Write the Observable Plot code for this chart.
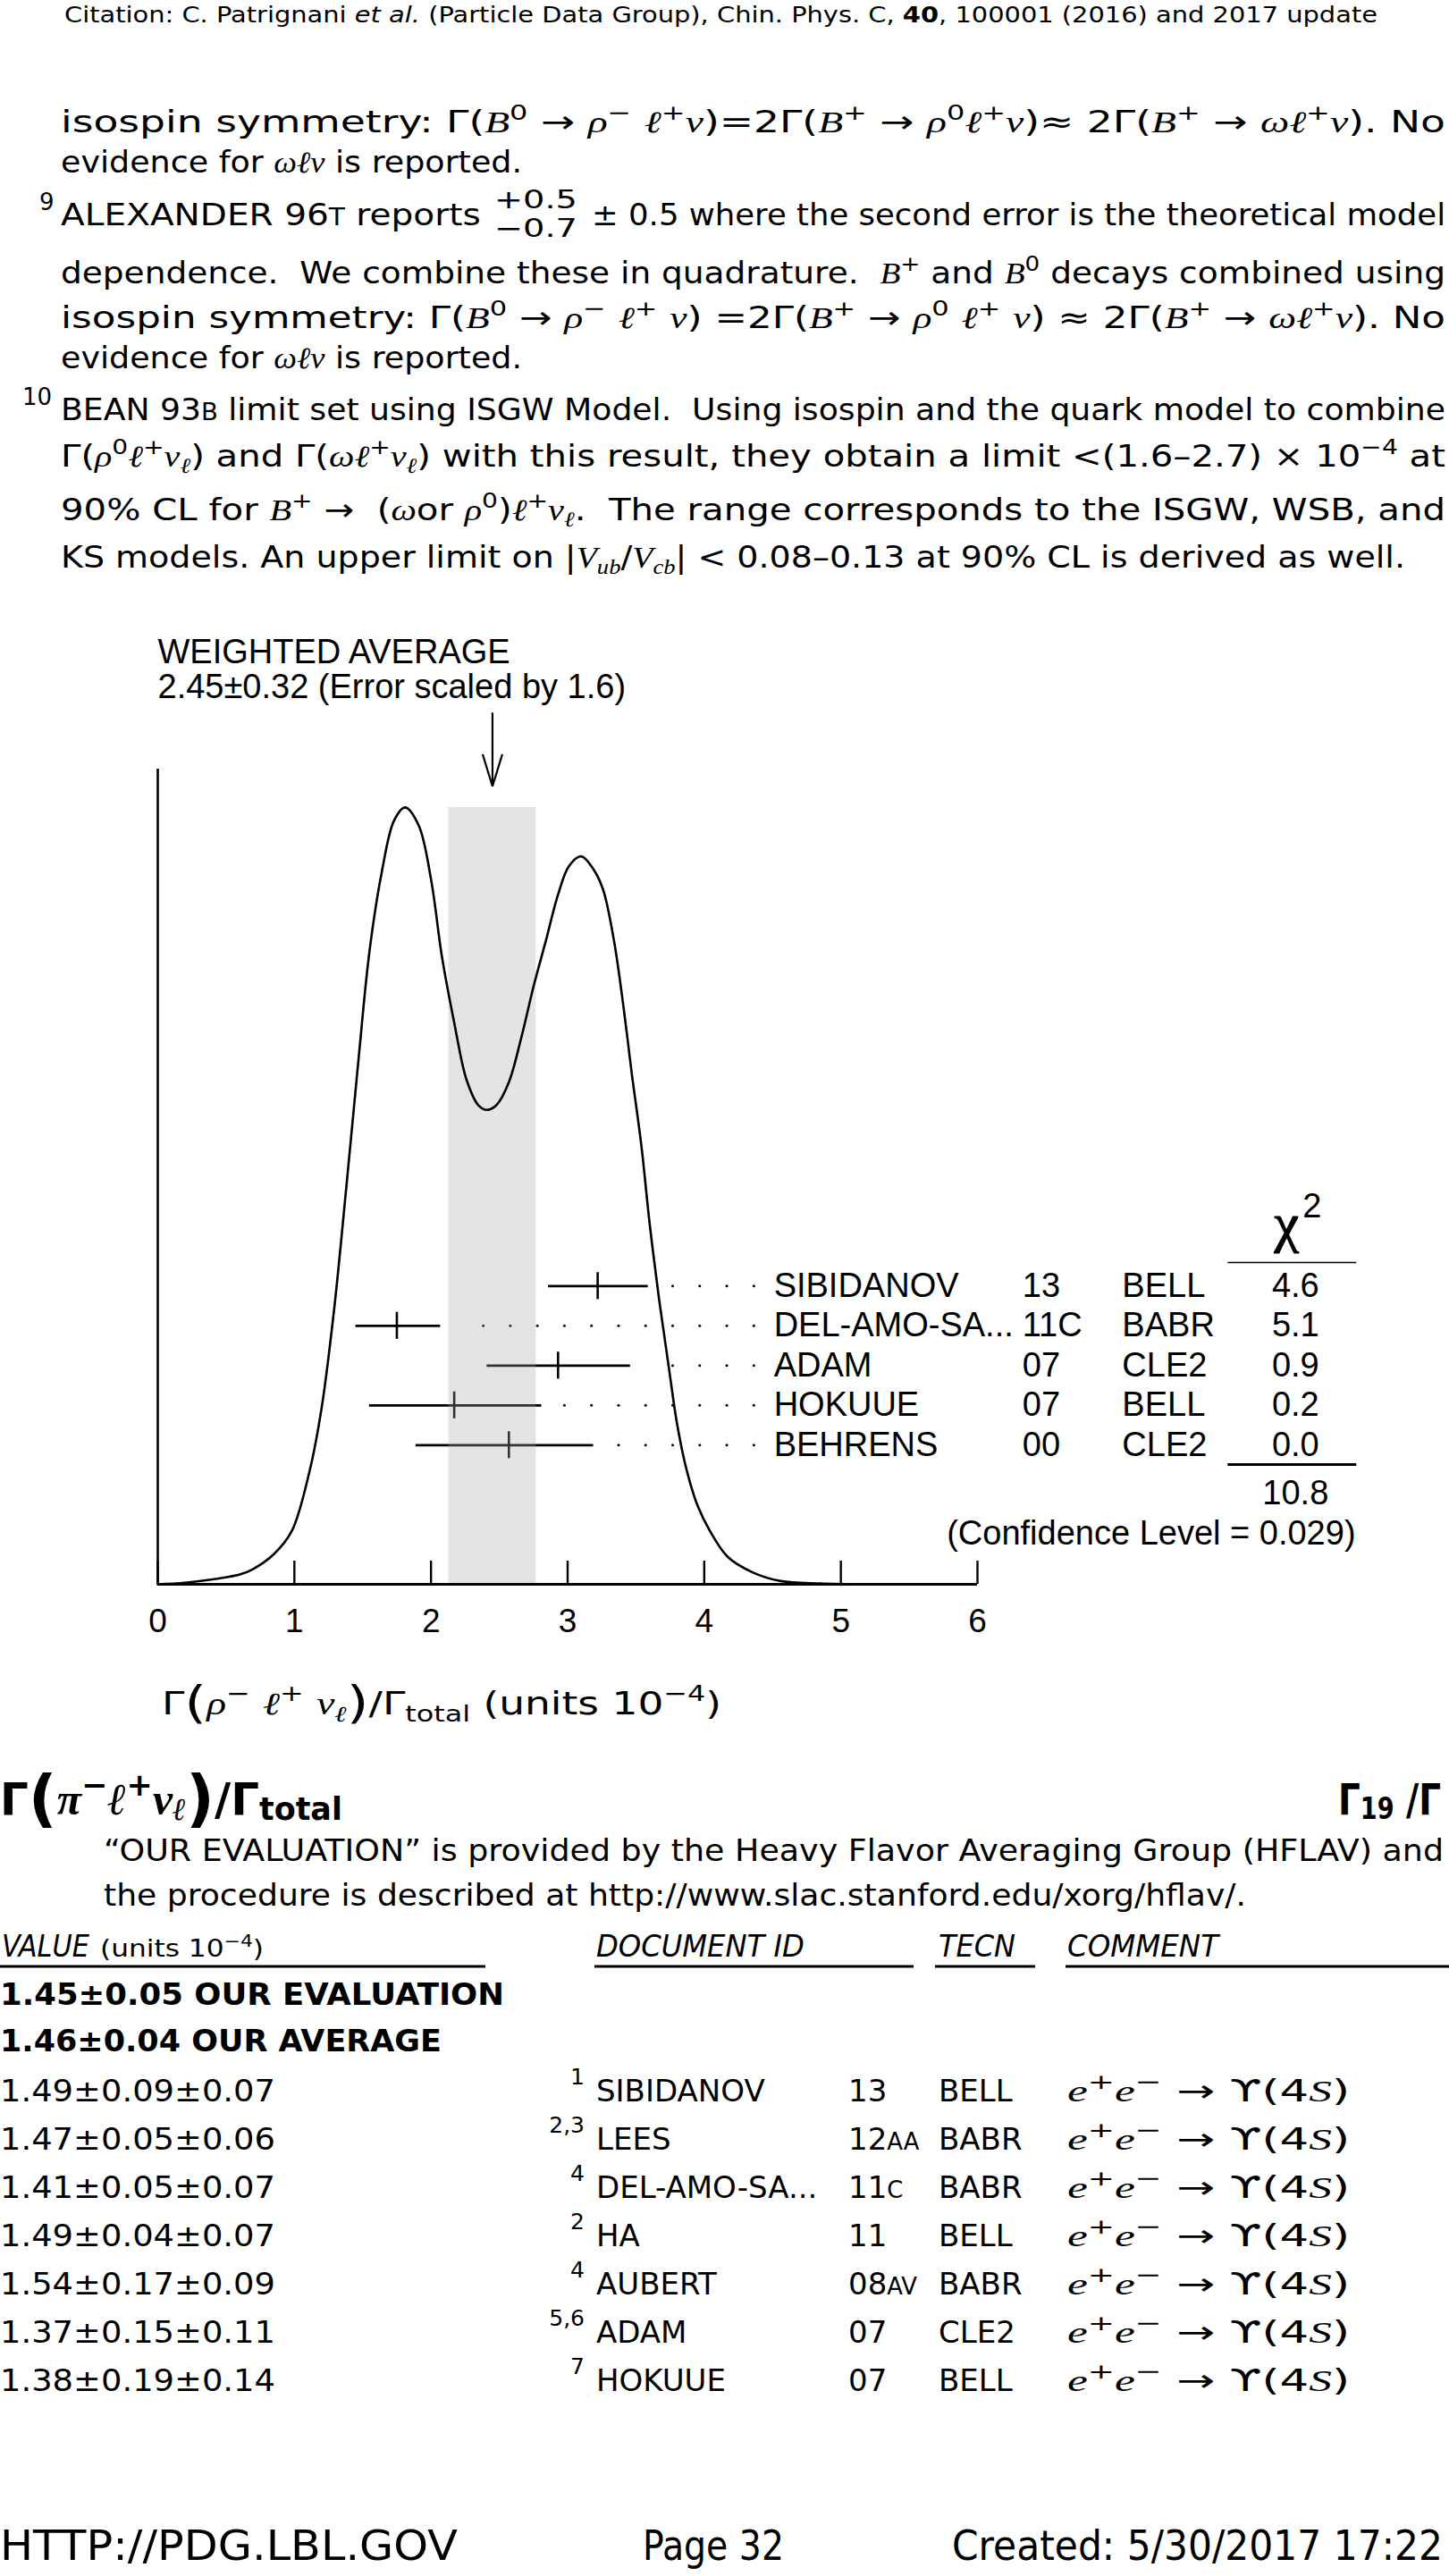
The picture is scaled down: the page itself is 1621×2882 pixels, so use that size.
<!DOCTYPE html>
<html>
<head>
<meta charset="utf-8">
<script src="https://cdn.jsdelivr.net/npm/d3@7"></script>
<script src="https://cdn.jsdelivr.net/npm/@observablehq/plot@0.6"></script>
<style>
html, body { margin: 0; padding: 0; background: #fff; }
#page { position: relative; width: 1621px; height: 2882px; overflow: hidden; background: #fff; }
#page > svg { position: absolute; left: 0; }
#page text { white-space: pre; }
</style>
</head>
<body>
<div id="page"></div>
<script>
// ---------------- DATA (ideogram) ----------------
const avgValue = 2.45;
const avgError = 0.32;
const errScale = 1.6;
const names  = ["SIBIDANOV", "DEL-AMO-SA...", "ADAM", "HOKUUE", "BEHRENS"];
const years  = ["13", "11C", "07", "07", "00"];
const tecns  = ["BELL", "BABR", "CLE2", "BELL", "CLE2"];
const values = [3.22, 1.75, 2.93, 2.17, 2.57];
const errLo  = [2.86, 1.45, 2.41, 1.55, 1.89];
const errHi  = [3.59, 2.07, 3.46, 2.81, 3.19];
const chi2   = ["4.6", "5.1", "0.9", "0.2", "0.0"];
const chi2Total = "10.8";
const confLevel = "0.029";
const xTicks = [0, 1, 2, 3, 4, 5, 6];
// ideogram curve (x in units 10^-4, height relative to axis height)
const curveX = [0, 0.2, 0.4, 0.6, 0.69, 0.85, 0.98, 1.11, 1.2, 1.29, 1.38, 1.47, 1.55, 1.64, 1.73, 1.81, 1.91, 2.0, 2.08, 2.17, 2.26, 2.35, 2.41, 2.48, 2.57, 2.66, 2.75, 2.84, 2.93, 3.01, 3.10, 3.19, 3.26, 3.34, 3.41, 3.47, 3.54, 3.60, 3.67, 3.74, 3.80, 3.87, 3.95, 4.04, 4.17, 4.35, 4.56, 4.85, 5.2];
const curveY = [0, 0.002, 0.006, 0.012, 0.018, 0.037, 0.065, 0.138, 0.217, 0.336, 0.487, 0.645, 0.777, 0.874, 0.937, 0.953, 0.931, 0.865, 0.770, 0.689, 0.619, 0.587, 0.582, 0.588, 0.616, 0.670, 0.733, 0.789, 0.846, 0.881, 0.893, 0.877, 0.852, 0.789, 0.707, 0.626, 0.538, 0.443, 0.349, 0.267, 0.198, 0.141, 0.097, 0.066, 0.034, 0.015, 0.004, 0.001, 0];

// ---------------- DATA (table) ----------------
const tblValues = ["1.49±0.09±0.07", "1.47±0.05±0.06", "1.41±0.05±0.07", "1.49±0.04±0.07", "1.54±0.17±0.09", "1.37±0.15±0.11", "1.38±0.19±0.14"];
const tblRefs   = ["1", "2,3", "4", "2", "4", "5,6", "7"];
const tblDocs   = ["SIBIDANOV", "LEES", "DEL-AMO-SA...", "HA", "AUBERT", "ADAM", "HOKUUE"];
const tblYears  = ["13", "12~{AA}", "11~{C}", "11", "08~{AV}", "07", "07"];
const tblTecn   = ["BELL", "BABR", "BABR", "BELL", "BABR", "CLE2", "BELL"];
const tblComment = "*e*^{+}*e*^{−} → ϒ(4*S*)";

// ---------------- LAYOUT ----------------
const BODY_FS = 34;
const CHART_FONT = "Liberation Sans, Arial, Helvetica, sans-serif";
const ROW_Y0 = 0.3659, ROW_STEP = 0.0488, TICK_HALF = 0.0165, AXIS_TICK = 0.0285;
const COL_NAME = 4.509, COL_YEAR = 6.329, COL_TECN = 7.059, COL_CHI = 8.328;
const CHI_LINE_X1 = 7.834, CHI_LINE_X2 = 8.776, CONF_X = 8.768;
const CHI_TOP_LINE_Y = 0.3947, CHI_BOTTOM_LINE_Y = 0.1469, CHI_SUM_Y = 0.1118, CONF_Y = 0.0625;
const CHI_HEAD_X = 8.262, CHI_HEAD_Y = 0.421, CHI_SUP_X = 8.449, CHI_SUP_Y = 0.4496;
const ARROW_TOP = 1.0694, ARROW_TIP = 0.9789, WING_Y = 1.0183, WING_DX = 0.072;
const WA_Y1 = 1.1297, WA_Y2 = 1.0877;
const DOT_X0 = 4.3632, DOT_STEP = 0.1981, DOT_GAP = 0.144;

const page = d3.select("#page");

// ---------------- page text (SVG) ----------------
function parseMarkup(str) {
  const segs = [];
  let italic = false, sitalic = false, bold = false, cur = null;
  const stack = [];
  for (let i = 0; i < str.length; i++) {
    const c = str[i], n = str[i + 1];
    if ((c === "^" || c === "_" || c === "~" || c === "#") && n === "{") { stack.push(c); i++; continue; }
    if (c === "}" && stack.length) { stack.pop(); continue; }
    if (c === "*") { italic = !italic; continue; }
    if (c === "§") { sitalic = !sitalic; continue; }
    if (c === "!") { bold = !bold; continue; }
    const key = [italic, sitalic, bold, stack.join(",")].join("|");
    if (!cur || cur.key !== key) { cur = {key, t: "", italic, sitalic, bold, modes: stack.slice()}; segs.push(cur); }
    cur.t += c;
  }
  return segs;
}

const textSvg = page.append("svg").attr("width", 1621).attr("height", 2882).style("top", "0px");

function drawLine(spec) {
  const fs = spec.fs || BODY_FS;
  const subDrop = spec.subDrop != null ? spec.subDrop : 0.22;
  const t = textSvg.append("text")
    .attr("x", spec.x).attr("y", spec.y)
    .attr("font-size", fs)
    .attr("font-family", "DejaVu Sans, sans-serif")
    .attr("font-weight", spec.bold ? "bold" : null)
    .attr("font-style", spec.italic ? "italic" : null)
    .attr("text-anchor", spec.anchor || "start")
    .attr("fill", "#000");
  let raise = 0;
  for (const s of parseMarkup(spec.s)) {
    let size = fs, r = 0;
    for (const m of s.modes) {
      if (m === "^") { r += size * 0.42; size *= 0.7; }
      else if (m === "_") { r -= size * subDrop; size *= 0.7; }
      else if (m === "~") { size *= 0.76; }
      else if (m === "#") { r -= size * 0.12; size *= 1.4; }
    }
    const ts = t.append("tspan").text(s.t).attr("font-size", size);
    if (raise - r !== 0) ts.attr("dy", raise - r);
    raise = r;
    if (s.italic) ts.attr("font-family", "Liberation Serif, DejaVu Serif, serif").attr("font-style", "italic");
    if (s.sitalic) ts.attr("font-style", "italic");
    if (s.bold) ts.attr("font-weight", "bold");
  }
  if (spec.w) {
    const natural = t.node().getComputedTextLength();
    if (natural > spec.w) {
      // shrink horizontally with a transform (keeps the box honest)
      const k = spec.w / natural;
      const ax = spec.anchor === "end" ? spec.x : spec.x;
      t.attr("transform", `translate(${ax},0) scale(${k},1) translate(${-ax},0)`);
    } else {
      t.attr("textLength", spec.w).attr("lengthAdjust", "spacingAndGlyphs");
    }
  }
  return t;
}

const lines = [
  {x: 72, y: 25, w: 1469, fs: 25, s: "Citation: C. Patrignani §et al.§ (Particle Data Group), Chin. Phys. C, !40!, 100001 (2016) and 2017 update"},
  {x: 68, y: 148, w: 1549, s: "isospin symmetry: Γ(*B*^{0} → *ρ*^{−} *ℓ*^{+}*ν*)=2Γ(*B*^{+} → *ρ*^{0}*ℓ*^{+}*ν*)≈ 2Γ(*B*^{+} → *ωℓ*^{+}*ν*). No"},
  {x: 68, y: 193, w: 516, s: "evidence for *ωℓν* is reported."},
  {x: 44, y: 235, fs: 26, s: "9"},
  {x: 68, y: 252, w: 470, s: "ALEXANDER 96~{T} reports"},
  {x: 553, y: 233, w: 93, fs: 28, s: "+0.5"},
  {x: 553, y: 265, w: 93, fs: 28, s: "−0.7"},
  {x: 662, y: 252, w: 955, s: "± 0.5 where the second error is the theoretical model"},
  {x: 68, y: 317, w: 1549, s: "dependence.  We combine these in quadrature.  *B*^{+} and *B*^{0} decays combined using"},
  {x: 68, y: 367, w: 1549, s: "isospin symmetry: Γ(*B*^{0} → *ρ*^{−} *ℓ*^{+} *ν*) =2Γ(*B*^{+} → *ρ*^{0} *ℓ*^{+} *ν*) ≈ 2Γ(*B*^{+} → *ωℓ*^{+}*ν*). No"},
  {x: 68, y: 412, w: 516, s: "evidence for *ωℓν* is reported."},
  {x: 25, y: 453, fs: 26, s: "10"},
  {x: 68, y: 470, w: 1549, s: "BEAN 93~{B} limit set using ISGW Model.  Using isospin and the quark model to combine"},
  {x: 68, y: 522, w: 1549, s: "Γ(*ρ*^{0}*ℓ*^{+}*ν*_{*ℓ*}) and Γ(*ωℓ*^{+}*ν*_{*ℓ*}) with this result, they obtain a limit <(1.6–2.7) × 10^{−4} at"},
  {x: 68, y: 582, w: 1549, s: "90% CL for *B*^{+} →  (*ω*or *ρ*^{0})*ℓ*^{+}*ν*_{*ℓ*}.  The range corresponds to the ISGW, WSB, and"},
  {x: 68, y: 635, w: 1504, s: "KS models. An upper limit on |*V*_{*ub*}/*V*_{*cb*}| < 0.08–0.13 at 90% CL is derived as well."},
  // x axis label of the ideogram
  {x: 181, y: 1918, w: 626, fs: 35, s: "Γ#{(}*ρ*^{−} *ℓ*^{+} *ν*_{*ℓ*}#{)}/Γ_{total} (units 10^{−4})"},
  // next section
  {x: 0, y: 2030, w: 383, fs: 50, bold: true, subDrop: 0.12, s: "Γ#{(}*π*^{−}*ℓ*^{+}*ν*_{*ℓ*}#{)}/Γ_{total}"},
  {x: 1497, y: 2030, w: 115, fs: 48, bold: true, subDrop: 0.1, s: "Γ_{19} /Γ"},
  {x: 116, y: 2082, w: 1499, s: "“OUR EVALUATION” is provided by the Heavy Flavor Averaging Group (HFLAV) and"},
  {x: 116, y: 2132, w: 1278, s: "the procedure is described at http://www.slac.stanford.edu/xorg/hflav/."},
  {x: 2, y: 2189, w: 98, italic: true, s: "VALUE"},
  {x: 112, y: 2189, w: 183, fs: 27, s: "(units 10^{−4})"},
  {x: 667, y: 2189, w: 233, italic: true, s: "DOCUMENT ID"},
  {x: 1050, y: 2189, w: 86, italic: true, s: "TECN"},
  {x: 1194, y: 2189, w: 169, italic: true, s: "COMMENT"},
  {x: 0, y: 2243, w: 564, bold: true, s: "1.45±0.05 OUR EVALUATION"},
  {x: 0, y: 2295, w: 494, bold: true, s: "1.46±0.04 OUR AVERAGE"},
  // footer
  {x: 0, y: 2864, w: 512, fs: 47, s: "HTTP://PDG.LBL.GOV"},
  {x: 719, y: 2864, w: 158, fs: 47, s: "Page 32"},
  {x: 1065, y: 2864, w: 549, fs: 47, s: "Created: 5/30/2017 17:22"}
];
lines.forEach(drawLine);

// table header underlines
[[0, 543], [665, 1022], [1046, 1158], [1192, 1621]].forEach(([a, b]) =>
  textSvg.append("line").attr("x1", a).attr("x2", b).attr("y1", 2200).attr("y2", 2200)
    .attr("stroke", "#000").attr("stroke-width", 2.8));

// table rows
const TBL_Y0 = 2351, TBL_STEP = 54;
tblValues.forEach((v, i) => {
  const y = TBL_Y0 + i * TBL_STEP;
  drawLine({x: 0, y, w: 308, s: v});
  drawLine({x: 654, y: y - 19, fs: 25, anchor: "end", s: tblRefs[i]});
  drawLine({x: 667, y, s: tblDocs[i]});
  drawLine({x: 949, y, s: tblYears[i]});
  drawLine({x: 1050, y, s: tblTecn[i]});
  drawLine({x: 1194, y, w: 316, s: tblComment});
});

// ---------------- the ideogram (Observable Plot) ----------------
const rows = names.map((name, i) => ({
  name, year: years[i], tecn: tecns[i], v: values[i], lo: errLo[i], hi: errHi[i], chi: chi2[i],
  y: ROW_Y0 - i * ROW_STEP
}));
const curvePts = curveX.map((x, i) => ({x, y: curveY[i]}));
const bandTop = d3.max(curveY);
const dots = rows.flatMap(r =>
  d3.range(0, 30).map(k => DOT_X0 - k * DOT_STEP)
    .filter(x => x > r.hi + DOT_GAP)
    .map(x => ({x, y: r.y})));
const arrowSegs = [
  {x1: avgValue, y1: ARROW_TOP, x2: avgValue, y2: ARROW_TIP},
  {x1: avgValue - WING_DX, y1: WING_Y, x2: avgValue, y2: ARROW_TIP},
  {x1: avgValue + WING_DX, y1: WING_Y, x2: avgValue, y2: ARROW_TIP}
];
const txt = {fontFamily: CHART_FONT, fontSize: 38, fill: "black"};

const chart = Plot.plot({
  width: 1621,
  height: 1140,
  marginLeft: 176,
  marginRight: 528,
  marginTop: 170,
  marginBottom: 58,
  x: {domain: [0, 6], axis: null},
  y: {domain: [0, 1], axis: null},
  style: {background: "transparent", overflow: "visible", color: "black"},
  marks: [
    // measurements
    Plot.ruleY(rows, {y: "y", x1: "lo", x2: "hi", stroke: "black", strokeWidth: 2.8}),
    Plot.ruleX(rows, {x: "v", y1: d => d.y - TICK_HALF, y2: d => d.y + TICK_HALF, stroke: "black", strokeWidth: 2.6}),
    Plot.dot(dots, {x: "x", y: "y", r: 1.5, fill: "black", stroke: null}),
    // weighted average band
    Plot.rect([avgValue], {x1: d => d - avgError, x2: d => d + avgError, y1: () => 0, y2: () => bandTop, fill: "#a6a6a6", fillOpacity: 0.3}),
    // ideogram
    Plot.line(curvePts, {x: "x", y: "y", curve: "catmull-rom", stroke: "black", strokeWidth: 2.6}),
    // axes
    Plot.ruleY([0], {x1: () => 0, x2: () => 6, stroke: "black", strokeWidth: 2.8}),
    Plot.ruleX([0], {y1: () => 0, y2: () => 1, stroke: "black", strokeWidth: 2.6}),
    Plot.ruleX(xTicks, {x: d => d, y1: () => 0, y2: () => AXIS_TICK, stroke: "black", strokeWidth: 2.4}),
    Plot.text(xTicks, {x: d => d, y: () => 0, text: d => String(d), dy: 42, lineAnchor: "middle", ...txt, fontSize: 37}),
    // arrow and weighted average labels
    Plot.link(arrowSegs, {x1: "x1", y1: "y1", x2: "x2", y2: "y2", stroke: "black", strokeWidth: 2.2}),
    Plot.text(["WEIGHTED AVERAGE"], {x: () => 0, y: () => WA_Y1, text: d => d, textAnchor: "start", lineAnchor: "bottom", ...txt}),
    Plot.text([`${avgValue.toFixed(2)}±${avgError.toFixed(2)} (Error scaled by ${errScale})`], {x: () => 0, y: () => WA_Y2, text: d => d, textAnchor: "start", lineAnchor: "bottom", ...txt}),
    // measurement table
    Plot.text(rows, {x: () => COL_NAME, y: "y", text: "name", textAnchor: "start", lineAnchor: "middle", ...txt}),
    Plot.text(rows, {x: () => COL_YEAR, y: "y", text: "year", textAnchor: "start", lineAnchor: "middle", ...txt}),
    Plot.text(rows, {x: () => COL_TECN, y: "y", text: "tecn", textAnchor: "start", lineAnchor: "middle", ...txt}),
    Plot.text(rows, {x: () => COL_CHI, y: "y", text: "chi", textAnchor: "middle", lineAnchor: "middle", ...txt}),
    Plot.text(["χ"], {x: () => CHI_HEAD_X, y: () => CHI_HEAD_Y, text: d => d, textAnchor: "middle", lineAnchor: "bottom", fontFamily: "Liberation Serif, DejaVu Serif, serif", fontSize: 62, fill: "black", stroke: "black", strokeWidth: 1.2}),
    Plot.text(["2"], {x: () => CHI_SUP_X, y: () => CHI_SUP_Y, text: d => d, textAnchor: "middle", lineAnchor: "bottom", ...txt}),
    Plot.ruleY([CHI_TOP_LINE_Y], {y: d => d, x1: () => CHI_LINE_X1, x2: () => CHI_LINE_X2, stroke: "black", strokeWidth: 1.4}),
    Plot.ruleY([CHI_BOTTOM_LINE_Y], {y: d => d, x1: () => CHI_LINE_X1, x2: () => CHI_LINE_X2, stroke: "black", strokeWidth: 3}),
    Plot.text([chi2Total], {x: () => COL_CHI, y: () => CHI_SUM_Y, text: d => d, textAnchor: "middle", lineAnchor: "middle", ...txt}),
    Plot.text([`(Confidence Level = ${confLevel})`], {x: () => CONF_X, y: () => CONF_Y, text: d => d, textAnchor: "end", lineAnchor: "middle", ...txt})
  ]
});
chart.style.position = "absolute";
chart.style.top = "690px";
chart.style.left = "0px";
document.getElementById("page").appendChild(chart);
</script>
</body>
</html>
